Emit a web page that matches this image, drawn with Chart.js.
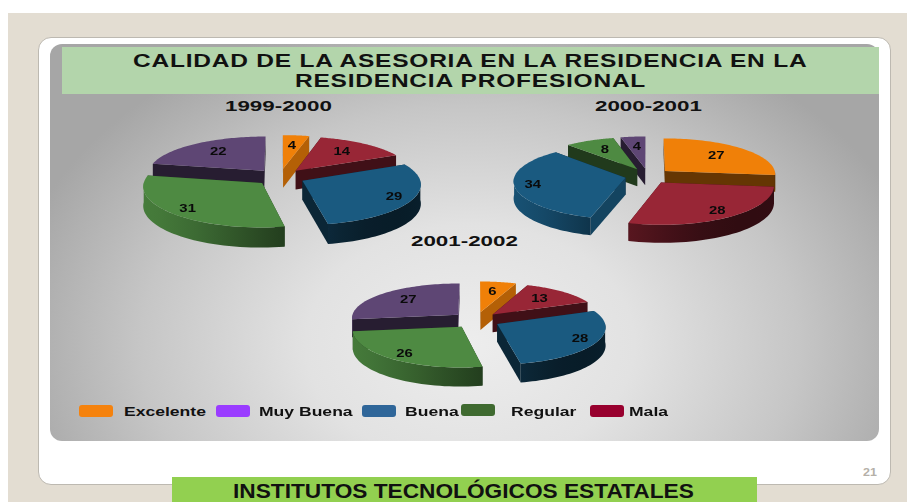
<!DOCTYPE html>
<html>
<head>
<meta charset="utf-8">
<script src="https://cdn.jsdelivr.net/npm/chart.js@4/dist/chart.umd.min.js"></script>
<style>
  html, body { margin: 0; padding: 0; width: 907px; height: 502px; overflow: hidden; background: #fff; }
  div, span, canvas { position: absolute; }
  #bg { left: 8px; top: 13px; width: 899px; height: 489px; background: #e3ddd2; }
  #card { left: 38px; top: 37px; width: 851px; height: 446px; background: #fff; border: 1.5px solid #bdb9b1; border-radius: 13px; }
  #panel { left: 50px; top: 44px; width: 829px; height: 397px; border-radius: 12px;
    background: radial-gradient(ellipse 470px 340px at 420px 300px, #ededed 0%, #e2e2e2 35%, #c6c6c6 70%, #a6a6a6 100%); }
  #head { left: 62px; top: 47px; width: 817px; height: 47px; background: #b3d5ab; }
  .wide { font-family: "Liberation Sans", sans-serif; font-weight: bold; color: #111; white-space: nowrap; transform-origin: 0 50%; }
  .title { font-size: 19px; line-height: 20px; letter-spacing: 0.6px; transform: scaleX(1.29); }
  .year { font-size: 15px; line-height: 16px; transform: scaleX(1.49); }
  .leg { font-size: 13px; line-height: 14px; top: 405px; transform: scaleX(1.35); }
  .swatch { width: 34px; height: 12px; border-radius: 3px; }
  #foot { left: 172px; top: 477px; width: 585px; height: 25px; background: #92d050; }
  #footText { left: 233px; top: 480px; font: bold 21px/22px "Liberation Sans", sans-serif; color: #111; white-space: nowrap; transform: scaleX(1.08); transform-origin: 0 50%; }
  #page { left: 863px; top: 467px; font: bold 10px/11px "Liberation Sans", sans-serif; color: #b5b0a8; transform: scaleX(1.25); transform-origin: 0 50%; }
</style>
</head>
<body>
<div id="bg"></div>
<div id="card"></div>
<div id="panel"></div>
<div id="head"></div>
<div class="wide title" style="left:133px;top:51px">CALIDAD DE LA ASESORIA EN LA RESIDENCIA EN LA</div>
<div class="wide title" style="left:295px;top:71px">RESIDENCIA PROFESIONAL</div>
<div class="wide year" style="left:225px;top:98px">1999-2000</div>
<div class="wide year" style="left:595px;top:98px">2000-2001</div>
<div class="wide year" style="left:411px;top:233px">2001-2002</div>
<canvas id="c1" width="340" height="340" style="left:110px;top:7px"></canvas>
<canvas id="c2" width="340" height="340" style="left:478px;top:6px"></canvas>
<canvas id="c3" width="340" height="340" style="left:306px;top:150px"></canvas>
<div id="foot"></div>
<div id="footText">INSTITUTOS TECNOLÓGICOS ESTATALES</div>
<div id="page">21</div>

<script>
// slices go clockwise from 12 o'clock in this order
var categories = ["Excelente", "Mala", "Buena", "Regular", "Muy Buena"];
var values1999 = [4, 14, 29, 31, 22];
var values2000 = [27, 28, 34, 8, 4];
var values2001 = [6, 13, 28, 26, 27];

var sliceColors = ["#f08008", "#982636", "#1a5a80", "#4e8a42", "#5e4674"];

var legendLabels = ["Excelente", "Muy Buena", "Buena", "Regular", "Mala"];
var legendColors = ["#f5820d", "#9a3cff", "#2f6699", "#3f6a30", "#98002e"];
var legendSwatchX = [79, 216, 362, 461, 590];
var legendTextX = [124, 259, 405, 511, 629];

legendLabels.forEach(function(label, i) {
  var sw = document.createElement("div");
  sw.className = "swatch";
  sw.style.left = legendSwatchX[i] + "px";
  sw.style.top = (i === 3 ? 404 : 405) + "px";
  sw.style.background = legendColors[i];
  document.body.appendChild(sw);
  var tx = document.createElement("div");
  tx.className = "wide leg";
  tx.style.left = legendTextX[i] + "px";
  tx.textContent = label;
  document.body.appendChild(tx);
});

function shade(hex, b) {
  var n = parseInt(hex.slice(1), 16);
  return "rgb(" + Math.round((n >> 16) * b) + "," + Math.round(((n >> 8) & 255) * b) + "," + Math.round((n & 255) * b) + ")";
}

// outer wall brightness, walls facing left catch the light
function wallLight(nx, ny) {
  return Math.max(0.3, 0.62 - 0.28 * nx - 0.12 * ny);
}

// cut faces are dark, except the ones turned to the right at a shallow angle
function cutLight(nx, ny) {
  return nx > 0.8 && ny > 0 && ny < 0.5 ? 0.75 : 0.42;
}

function tiltPoint(arc, gx, gy, drop, o) {
  var R = arc.outerRadius;
  return [
    arc.x + gx * (1 + 0.08 * gy / R),
    arc.y + gy * o.squash * (1 + 0.1 * gy / R) + drop * o.depth * (1 + 0.05 * gy / R)
  ];
}

// tilted pie: takes the arcs chart.js laid out and draws them with depth
var tiltPlugin = {
  id: "tilt",
  beforeDatasetDraw: function(chart) {
    var ctx = chart.ctx;
    var o = chart.options.plugins.tilt;
    var arcs = chart.getDatasetMeta(0).data.slice();
    arcs.sort(function(a, b) {
      return Math.sin((a.startAngle + a.endAngle) / 2) - Math.sin((b.startAngle + b.endAngle) / 2);
    });
    arcs.forEach(function(arc) {
      var R = arc.outerRadius;
      var mid = (arc.startAngle + arc.endAngle) / 2;
      var ox = Math.cos(mid) * arc.options.offset;
      var oy = Math.sin(mid) * arc.options.offset;
      var color = arc.options.backgroundColor;
      var s = arc.startAngle, e = arc.endAngle;
      function proj(a, rad, drop) {
        return tiltPoint(arc, ox + Math.cos(a) * rad, oy + Math.sin(a) * rad, drop, o);
      }
      function path(pts) {
        ctx.beginPath();
        pts.forEach(function(p, j) { j ? ctx.lineTo(p[0], p[1]) : ctx.moveTo(p[0], p[1]); });
        ctx.closePath();
      }
      // radial walls, back one first
      var radial = [
        { ny: -Math.cos(s), nx: Math.sin(s), a: s },
        { ny: Math.cos(e), nx: -Math.sin(e), a: e }
      ].sort(function(a, b) { return a.ny - b.ny; });
      radial.forEach(function(w) {
        path([proj(w.a, 0, 0), proj(w.a, R, 0), proj(w.a, R, 1), proj(w.a, 0, 1)]);
        ctx.fillStyle = shade(color, cutLight(w.nx, w.ny));
        ctx.fill();
      });
      // outer wall, only the part that faces the viewer
      var from = Math.max(s, 0), to = Math.min(e, Math.PI);
      if (to > from) {
        var n = 40, upper = [], lower = [];
        for (var i = 0; i <= n; i++) {
          var a = from + (to - from) * i / n;
          upper.push(proj(a, R, 0));
          lower.unshift(proj(a, R, 1));
        }
        var xa = upper[0][0], xb = upper[n][0];
        var grad = ctx.createLinearGradient(xa, 0, xb, 0);
        for (var g = 0; g <= 8; g++) {
          var ga = from + (to - from) * g / 8;
          grad.addColorStop(g / 8, shade(color, wallLight(Math.cos(ga), Math.sin(ga))));
        }
        path(upper.concat(lower));
        ctx.fillStyle = grad;
        ctx.fill();
      }
      // top face
      var top = [proj(s, 0, 0)];
      for (var k = 0; k <= 60; k++) {
        top.push(proj(s + (e - s) * k / 60, R, 0));
      }
      path(top);
      ctx.fillStyle = color;
      ctx.fill();
    });
    return false;
  },
  afterDatasetsDraw: function(chart) {
    var ctx = chart.ctx;
    var o = chart.options.plugins.tilt;
    var values = chart.data.datasets[0].data;
    chart.getDatasetMeta(0).data.forEach(function(arc, i) {
      var R = arc.outerRadius;
      var mid = (arc.startAngle + arc.endAngle) / 2;
      var reach = Math.sin(mid) > 0 ? 0.84 : 0.66;
      var gx = Math.cos(mid) * (arc.options.offset + R * reach);
      var gy = Math.sin(mid) * (arc.options.offset + R * reach);
      var p = tiltPoint(arc, gx, gy, 0, o);
      ctx.save();
      ctx.translate(p[0], p[1]);
      ctx.scale(1.35, 1);
      ctx.font = "bold 11px 'Liberation Sans'";
      ctx.textAlign = "center";
      ctx.textBaseline = "middle";
      ctx.fillStyle = "#0a0a0a";
      ctx.fillText(values[i], 0, 0);
      ctx.restore();
    });
  }
};

function makePie(id, values, radius, offset, depth) {
  new Chart(document.getElementById(id), {
    type: "pie",
    data: {
      labels: categories,
      datasets: [{ data: values, backgroundColor: sliceColors, borderWidth: 0, offset: offset }]
    },
    options: {
      responsive: false,
      animation: false,
      radius: radius,
      plugins: {
        legend: { display: false },
        tooltip: { enabled: false },
        tilt: { squash: 0.336, depth: depth }
      }
    },
    plugins: [tiltPlugin]
  });
}

makePie("c1", values1999, 117, 25, 19);
makePie("c2", values2000, 111, 23, 17);
makePie("c3", values2001, 107, 24, 18);
</script>
</body>
</html>
